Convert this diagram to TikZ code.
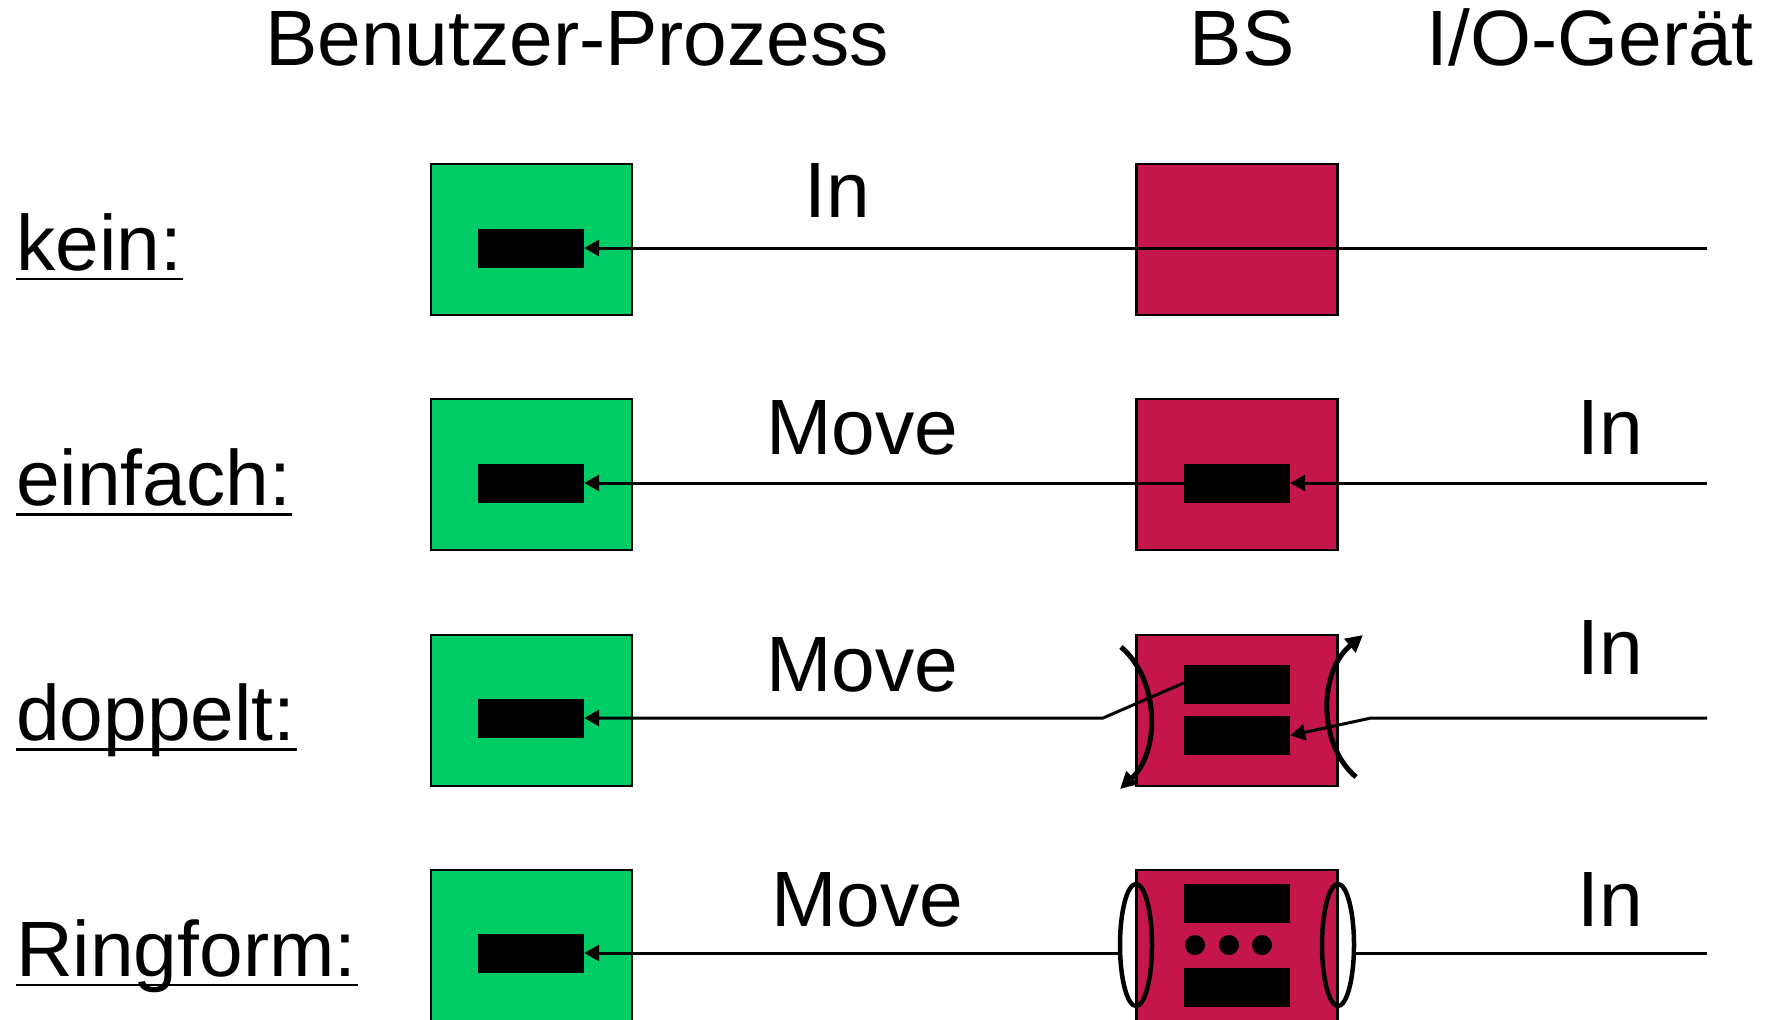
\documentclass[tikz,border=0pt]{standalone}
\usepackage{fontspec}
\setmainfont{Liberation Sans}
\usetikzlibrary{arrows.meta,shapes.geometric}
\definecolor{procgreen}{RGB}{0,204,102}
\definecolor{osred}{RGB}{196,22,74}
\tikzset{
  txt/.style={inner sep=0pt,anchor=base,font=\fontsize{78.5}{90}\selectfont},
  rowlabel/.style={txt,anchor=base west},
  box/.style={rectangle,draw=black,line width=2.2pt,minimum width=201pt,minimum height=151pt,inner sep=0pt},
  greenbox/.style={box,fill=procgreen},
  redbox/.style={box,fill=osred},
  buf/.style={rectangle,fill=black,minimum width=106pt,minimum height=39pt,inner sep=0pt},
  dot/.style={circle,fill=black,minimum size=20pt,inner sep=0pt},
  ring/.style={ellipse,draw=black,line width=4.5pt,minimum width=32pt,minimum height=122pt,inner sep=0pt},
  conn/.style={line width=3pt},
  connarrow/.style={conn,-{Triangle[length=15pt,width=16pt]}},
  swaparrow/.style={line width=5pt,-{Triangle[length=17pt,width=17pt]}},
  uline/.style={line width=2.5pt}
}
\begin{document}
\begin{tikzpicture}[x=1pt,y=-1pt]
\useasboundingbox (0,0) rectangle (1778,1020);
\clip (0,0) rectangle (1778,1020);
% headers
\node[txt] (hUser) at (577,65) {Benutzer-Prozess};
\node[txt] (hOS) at (1242,65) {BS};
\node[txt] (hIO) at (1590,65) {I/O-Gerät};
% row labels
\node[rowlabel] (l1) at (16,270) {kein:};
\node[rowlabel] (l2) at (16,505.3) {einfach:};
\node[rowlabel] (l3) at (16,740.6) {doppelt:};
\node[rowlabel] (l4) at (16,976) {Ringform:};
\foreach \n in {l1,l2,l3,l4}{
  \draw[uline] ([yshift=-9pt]\n.base west) -- ([xshift=1pt,yshift=-9pt]\n.base east);
}
% row 1
\node[greenbox] (g1) at (531.5,239.5) {};
\node[redbox] (r1) at (1237,239.5) {};
\node[buf] (u1) at (531,248) {};
\coordinate (d1) at (1707,248);
\draw[connarrow] (d1) -- (u1.east);
\node[txt] (in1) at (837,217) {In};
% row 2
\node[greenbox] (g2) at (531.5,474.8) {};
\node[redbox] (r2) at (1237,474.8) {};
\node[buf] (u2) at (531,483) {};
\node[buf] (b2) at (1237,483) {};
\coordinate (d2) at (1707,483);
\draw[connarrow] (d2) -- (b2.east);
\draw[connarrow] (b2.west) -- (u2.east);
\node[txt] (mv2) at (862,454) {Move};
\node[txt] (in2) at (1610,454) {In};
% row 3
\node[greenbox] (g3) at (531.5,710.1) {};
\node[redbox] (r3) at (1237,710.1) {};
\node[buf] (u3) at (531,718) {};
\node[buf] (b3a) at (1237,684.5) {};
\node[buf] (b3b) at (1237,735.5) {};
\coordinate (d3) at (1707,718);
\coordinate (k3r) at (1371,718);
\coordinate (k3l) at (1103,718);
\draw[connarrow] (d3) -- (k3r) -- (b3b.east);
\draw[connarrow] ([yshift=1.5pt]b3a.west) -- (k3l) -- (u3.east);
\coordinate (s3l) at (1121,647);
\coordinate (e3l) at (1120,789);
\draw[swaparrow] (s3l) .. controls (1160,680) and (1160,752) .. (e3l);
\coordinate (s3r) at (1356,777);
\coordinate (e3r) at (1363,635);
\draw[swaparrow] (s3r) .. controls (1318,745) and (1318,672) .. (e3r);
\node[txt] (mv3) at (862,691) {Move};
\node[txt] (in3) at (1610,674) {In};
% row 4
\node[greenbox] (g4) at (531.5,945.4) {};
\node[redbox] (r4) at (1237,945.4) {};
\node[buf] (u4) at (531,953) {};
\node[buf] (b4a) at (1237,903.5) {};
\node[dot] (p1) at (1195,945) {};
\node[dot] (p2) at (1229,945) {};
\node[dot] (p3) at (1262,945) {};
\node[buf] (b4b) at (1237,987.5) {};
\node[ring] (e4l) at (1136,945) {};
\node[ring] (e4r) at (1338,945) {};
\coordinate (d4) at (1707,953);
\draw[connarrow] (e4l.west |- u4.east) -- (u4.east);
\draw[conn] (d4) -- (e4r.east |- d4);
\node[txt] (mv4) at (867,926) {Move};
\node[txt] (in4) at (1610,926) {In};
\end{tikzpicture}
\end{document}
